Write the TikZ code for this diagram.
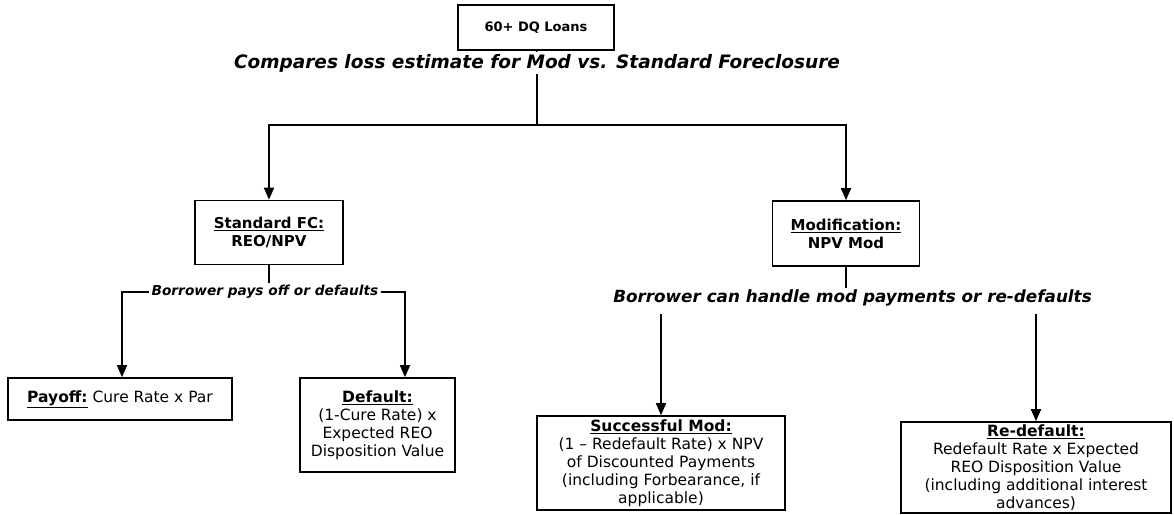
\documentclass[tikz,border=0pt]{standalone}
\usepackage{fontspec}
\setmainfont{DejaVu Sans}
\usepackage{tikz}
\usetikzlibrary{arrows.meta}

\newcommand{\hdr}[1]{\underline{\textbf{#1}}}

\begin{document}
\begin{tikzpicture}[
  x=1pt, y=-1pt,
  box/.style={draw, line width=1.6pt, align=center, inner sep=2pt, font=\fontsize{15.5}{18}\selectfont},
  topbox/.style={box, font=\fontsize{13}{16}\selectfont\bfseries},
  lbl/.style={inner sep=2pt, font=\bfseries\itshape},
  arr/.style={-{Triangle[length=12pt,width=10pt]}, line width=1.6pt},
  ln/.style={line width=1.6pt}
]
  \useasboundingbox (0,0) rectangle (1174,514);

  % Top of the tree
  \node[topbox, minimum width=156pt, minimum height=45pt] (dq) at (536,27.5) {60+ DQ Loans};
  \node[lbl, font=\fontsize{18.5}{22}\selectfont\bfseries\itshape] (cmp) at (537,63) {Compares loss estimate for Mod vs. Standard Foreclosure};
  \coordinate (split) at (537,125);

  % Two paths
  \node[box, minimum width=148pt, minimum height=64pt, font=\fontsize{15}{18}\selectfont\bfseries] (stdfc) at (269,232.5) {\underline{Standard FC:}\\REO/NPV};
  \node[box, minimum width=147pt, minimum height=65pt, font=\fontsize{15}{18}\selectfont\bfseries] (mod) at (846,233.5) {\underline{Modification:}\\NPV Mod};

  % Outcome labels
  \node[lbl, font=\fontsize{13.7}{16}\selectfont\bfseries\itshape] (payoffdef) at (265,292) {Borrower pays off or defaults};
  \node[lbl, font=\fontsize{16.8}{20}\selectfont\bfseries\itshape] (handle) at (852.5,298) {Borrower can handle mod payments or re-defaults};

  % Outcomes
  \node[box, minimum width=224pt, minimum height=42pt] (payoff) at (120,399) {\hdr{Payoff:} Cure Rate x Par};
  \node[box, minimum width=155pt, minimum height=94pt] (default) at (377.5,425) {\hdr{Default:}\\(1-Cure Rate) x\\Expected REO\\Disposition Value};
  \node[box, minimum width=248pt, minimum height=94pt] (succmod) at (661,463) {\hdr{Successful Mod:}\\(1 -- Redefault Rate) x NPV\\of Discounted Payments\\(including Forbearance, if\\applicable)};
  \node[box, minimum width=270pt, minimum height=91pt] (redef) at (1036,467.5) {\hdr{Re-default:}\\Redefault Rate x Expected\\REO Disposition Value\\(including additional interest\\advances)};

  % Connectors
  \draw[ln] (dq) -- (cmp);
  \draw[ln] (cmp) -- (split);
  \draw[arr] (split) -| (stdfc);
  \draw[arr] (split) -| (mod);

  \draw[ln] (stdfc.south) -- (stdfc.south |- payoffdef.north);
  \draw[arr] (payoffdef.west) -| ([xshift=2pt]payoff.north);
  \draw[arr] (payoffdef.east) -| ([xshift=27.5pt]default.north);

  \draw[ln] (mod.south) -- (mod.south |- handle.north);
  \draw[arr] ([yshift=-6pt]handle.south -| succmod.north) -- (succmod);
  \draw[arr] ([yshift=-6pt]handle.south -| redef.north) -- (redef);
\end{tikzpicture}
\end{document}
